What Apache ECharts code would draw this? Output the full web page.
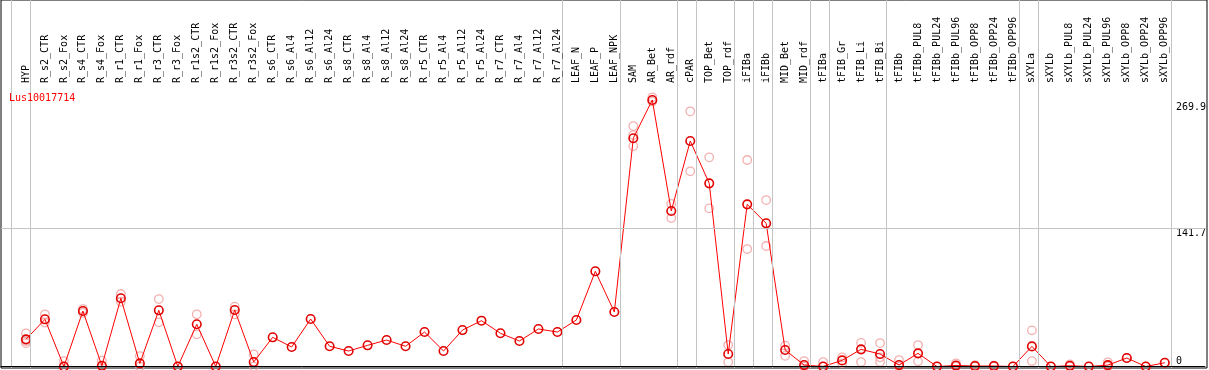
<!DOCTYPE html>
<html><head><meta charset="utf-8">
<script src="https://cdn.jsdelivr.net/npm/echarts@6/dist/echarts.min.js"></script>
<style>html,body{margin:0;padding:0;background:#fff}#c{width:1209px;height:370px}</style>
</head><body><div id="c"></div>
<script>
const chartTitle = 'Lus10017714';
const categories = ['HYP','R_s2_CTR','R_s2_Fox','R_s4_CTR','R_s4_Fox','R_r1_CTR','R_r1_Fox','R_r3_CTR','R_r3_Fox',
  'R_r1s2_CTR','R_r1s2_Fox','R_r3s2_CTR','R_r3s2_Fox','R_s6_CTR','R_s6_Al4','R_s6_Al12','R_s6_Al24',
  'R_s8_CTR','R_s8_Al4','R_s8_Al12','R_s8_Al24','R_r5_CTR','R_r5_Al4','R_r5_Al12','R_r5_Al24',
  'R_r7_CTR','R_r7_Al4','R_r7_Al12','R_r7_Al24','LEAF_N','LEAF_P','LEAF_NPK','SAM','AR_Bet','AR_rdf',
  'cPAR','TOP_Bet','TOP_rdf','iFIBa','iFIBb','MID_Bet','MID_rdf','tFIBa','tFIB_Gr','tFIB_Li','tFIB_Bi',
  'tFIBb','tFIBb_PUL8','tFIBb_PUL24','tFIBb_PUL96','tFIBb_OPP8','tFIBb_OPP24','tFIBb_OPP96',
  'sXYLa','sXYLb','sXYLb_PUL8','sXYLb_PUL24','sXYLb_PUL96','sXYLb_OPP8','sXYLb_OPP24','sXYLb_OPP96'];
const means = [27.8,48.3,0,56.8,0.8,69.8,3.2,57.5,0,43.2,0,57.8,4.6,29.9,20,48.6,20.7,15.9,21.7,27.1,20.7,
  35.3,15.9,37.3,46.9,34,26.1,38.4,35.3,47.6,97.4,55.8,233.5,272.7,159.1,230.7,187.4,12.8,165.9,146.5,
  16.9,1.5,0,6.3,17.6,12.8,1.5,13.5,0,1.1,0.5,0.5,0,20.6,0,0.8,0,1.4,8.7,0,3.9];
const replicates = [
  [34,24,26],[53.4,45],[5.6,0],[58.8,54.8],[6,0],[74.2,66.3],[10.7,0],[69,45.2],[0],[53.4,32.9],[0],[61.2,53.4],[12.5,0],
  [],[],[],[],[],[],[],[],[],[],[],[],[],[],[],[],[],[],[],
  [246,236.8,225.5],[275.4,271],[166.3,151.9],[261.1,199.7],[214,161.8],[22,4.6],[211.3,120.2],[170.3,123.3],
  [21.3,11],[5.6,0],[4.6,0],[3.3,9.3],[24.2,4.6],[24,9.4,4.6],[6.6,0],[22,5.3],[0],[3.3,0],[1.5,0],[1,0],[0],
  [37,5.6],[0],[2.3,0],[0],[4.3,0],[8.7],[0],[3.9]];
const groupEnds = [-1,0,28,31,34,35,37,38,39,41,42,45,52,53,60];
const yTickLabels = [269.9, 141.7];
const yZeroLabel = [0];
const gridLineValue = 141.7;

const FONT = 'DejaVu Sans Mono';
const xMin = -1.315, xMax = 62.115;
const sepOffset = 0.226;

const repData = [];
replicates.forEach((arr, i) => arr.forEach(v => repData.push([i, v])));

const chart = echarts.init(document.getElementById('c'));
chart.setOption({
  animation: false,
  backgroundColor: '#fff',
  title: {text: chartTitle, left: 9, top: 93, padding: 0,
    textStyle: {color: '#ff0000', fontSize: 10, fontWeight: 'normal', fontFamily: FONT}},
  grid: [
    {left: 1, right: 2, top: 85, bottom: 2, show: false},
    {left: 1, right: 2, top: 0, bottom: 2, show: true, borderColor: '#000', borderWidth: 1, backgroundColor: 'transparent'}
  ],
  xAxis: [
    {type: 'value', gridIndex: 0, position: 'top', min: xMin, max: xMax, z: 5,
      axisLine: {show: true, lineStyle: {color: '#000', width: 1}},
      axisTick: {show: false}, splitLine: {show: false},
      axisLabel: {customValues: categories.map((c, i) => i), formatter: v => categories[Math.round(v)] || '',
        rotate: 90, margin: 2, color: '#000', fontSize: 10, fontFamily: FONT}},
    {type: 'value', gridIndex: 1, min: xMin, max: xMax, show: false}
  ],
  yAxis: [
    {type: 'value', gridIndex: 0, position: 'right', min: -1.5, max: 288,
      axisLine: {show: false}, axisTick: {show: false}, splitLine: {show: false},
      axisLabel: {customValues: yTickLabels, formatter: v => String(v), inside: true, align: 'left', margin: 29,
        verticalAlign: 'top', color: '#000', fontSize: 10, fontFamily: FONT}},
    {type: 'value', gridIndex: 0, position: 'right', min: -1.5, max: 288,
      axisLine: {show: false}, axisTick: {show: false}, splitLine: {show: false},
      axisLabel: {customValues: yZeroLabel, formatter: v => String(v), inside: true, align: 'left', margin: 29,
        verticalAlign: 'bottom', color: '#000', fontSize: 10, fontFamily: FONT}},
    {type: 'value', gridIndex: 1, min: 0, max: 1, show: false}
  ],
  series: [
    {type: 'line', xAxisIndex: 1, yAxisIndex: 2, data: [], z: 1, silent: true,
      markLine: {silent: true, symbol: ['none','none'], label: {show: false},
        lineStyle: {color: '#c4c4c4', width: 1, type: 'solid'},
        data: groupEnds.map(g => ({xAxis: g + sepOffset}))}},
    {type: 'line', xAxisIndex: 0, yAxisIndex: 0, data: [], z: 1, silent: true,
      markLine: {silent: true, symbol: ['none','none'], label: {show: false},
        lineStyle: {color: '#c4c4c4', width: 1, type: 'solid'},
        data: [{yAxis: gridLineValue}]}},
    {name: 'replicates', type: 'scatter', xAxisIndex: 0, yAxisIndex: 0, z: 2,
      data: repData, symbol: 'circle', symbolSize: 8.5,
      itemStyle: {color: 'rgba(0,0,0,0)', borderColor: '#f09c9c', borderWidth: 1.3}},
    {name: 'mean', type: 'line', xAxisIndex: 0, yAxisIndex: 0, z: 3,
      data: means.map((v, i) => [i, v]), symbol: 'circle', symbolSize: 8.5, showAllSymbol: true,
      lineStyle: {color: '#ff0000', width: 1},
      itemStyle: {color: 'rgba(0,0,0,0)', borderColor: '#e00000', borderWidth: 1.6}}
  ]
});
</script></body></html>
